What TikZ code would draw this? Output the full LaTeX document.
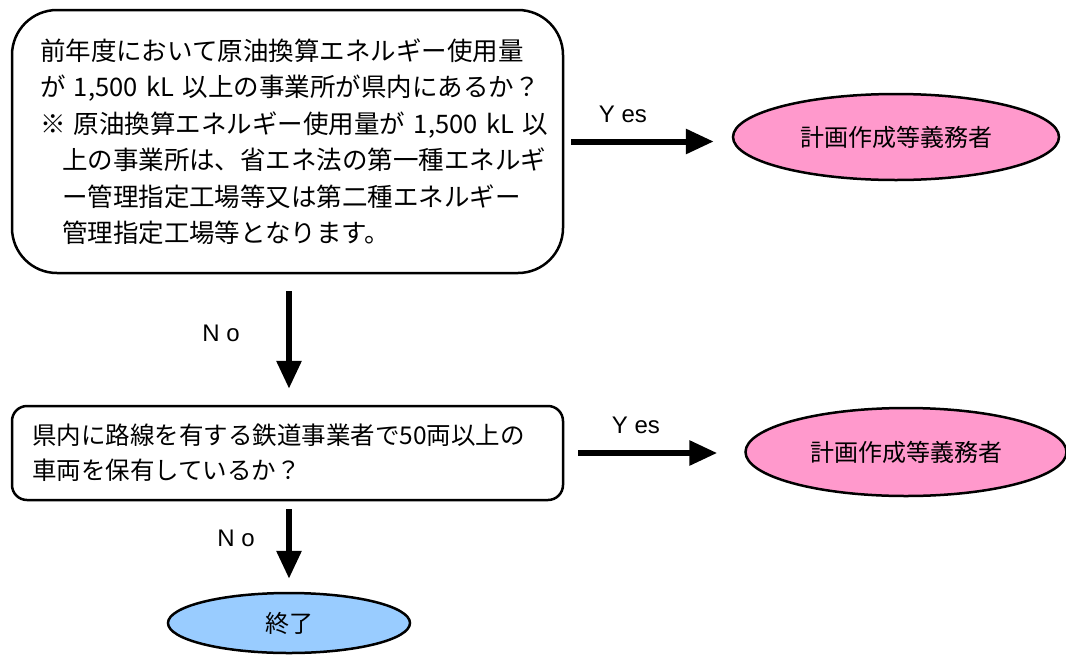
\documentclass[tikz,border=0pt]{standalone}
\usepackage{fontspec}
\setmainfont{Noto Sans CJK JP}
\newfontfamily\latf{Liberation Sans}
\usetikzlibrary{shapes.geometric,arrows.meta}
\definecolor{pinkfill}{HTML}{FF99CC}
\definecolor{bluefill}{HTML}{99CCFF}
\tikzset{
  qbox/.style={draw=black, line width=2.5pt, fill=white, align=left, inner sep=0pt},
  oval/.style={ellipse, draw=black, line width=2.5pt, inner sep=0pt, font=\fontsize{24}{28}\selectfont},
  flow/.style={line width=6pt, -{Triangle[length=28pt,width=24pt]}},
  lbl/.style={font=\latf\fontsize{24}{28}\selectfont},
}
\begin{document}
\begin{tikzpicture}[x=1pt,y=-1pt]
\useasboundingbox (0,0) rectangle (1066,654);
\node[qbox, rounded corners=45pt, minimum width=551pt, minimum height=263pt, text width=495pt,
      font=\fontsize{25.5}{36.5}\selectfont] (q1) at (287.5,141.5)
 {\mbox{前年度において原油換算エネルギー使用量}\\
  \mbox{が 1,500 kL 以上の事業所が県内にあるか？}\\
  \mbox{※ 原油換算エネルギー使用量が 1,500 kL 以}\\
  \mbox{\hspace*{22pt}上の事業所は、省エネ法の第一種エネルギ}\\
  \mbox{\hspace*{22pt}ー管理指定工場等又は第二種エネルギー}\\
  \mbox{\hspace*{22pt}管理指定工場等となります。}};
\node[qbox, rounded corners=15pt, minimum width=551pt, minimum height=94pt, text width=511pt,
      font=\fontsize{24.5}{35}\selectfont] (q2) at (287.5,453)
 {\mbox{県内に路線を有する鉄道事業者で50両以上の}\\
  \mbox{車両を保有しているか？}};
\node[oval, fill=pinkfill, minimum width=326pt, minimum height=86pt] (y1) at (896,137) {計画作成等義務者};
\node[oval, fill=pinkfill, minimum width=321pt, minimum height=88pt] (y2) at (906,452) {計画作成等義務者};
\node[oval, fill=bluefill, minimum width=242pt, minimum height=60pt] (end) at (289,623) {終了};
\draw[flow, shorten <=7pt, shorten >=18pt] (q1.east) -- (q1.east -| y1.west);
\draw[flow, shorten <=14pt, shorten >=27pt] (q2.east) -- (q2.east -| y2.west);
\draw[flow, shorten <=17pt, shorten >=16pt] ([xshift=1.5pt]q1.south) -- ([xshift=1.5pt]q2.north);
\draw[flow, shorten <=8pt, shorten >=13pt] ([xshift=1.5pt]q2.south) -- (end.north);
\node[lbl] (ly1) at (623,114) {Y es};
\node[lbl] (ly2) at (636,425) {Y es};
\node[lbl] (ln1) at (221,333) {N o};
\node[lbl] (ln2) at (236,538) {N o};
\end{tikzpicture}
\end{document}
